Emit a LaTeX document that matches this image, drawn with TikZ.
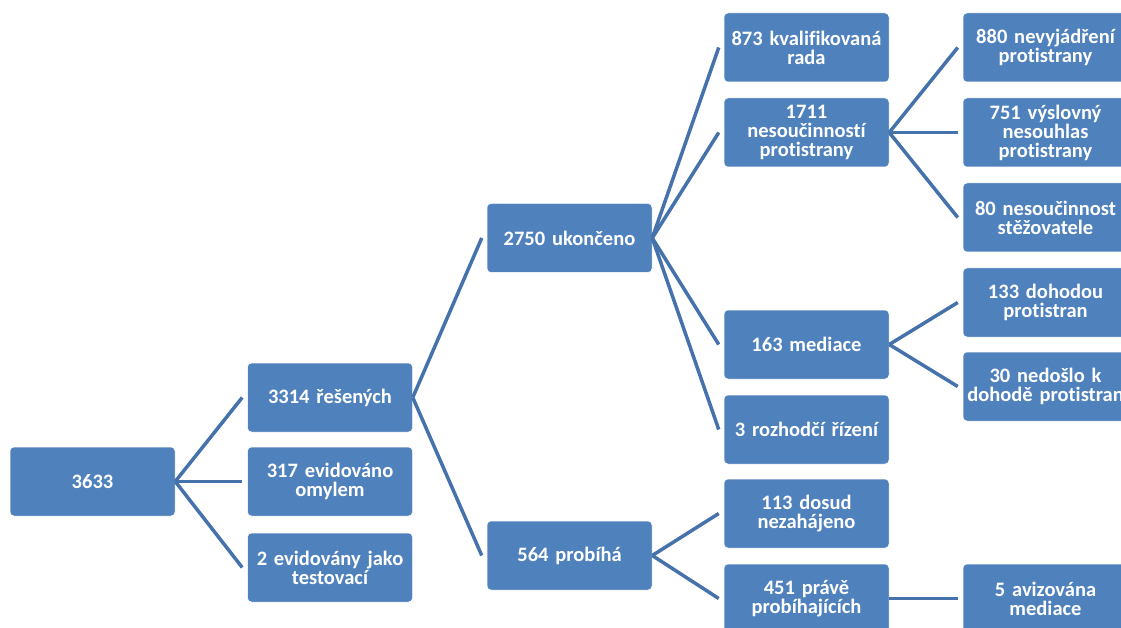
\documentclass[tikz,border=0pt]{standalone}
\usepackage{fontspec}
\setmainfont{Carlito}[Ligatures=NoCommon]
\definecolor{boxblue}{HTML}{4F81BD}
\definecolor{linkblue}{HTML}{4672AC}
\tikzset{
    box/.style={rectangle, rounded corners=4pt, fill=boxblue, draw=white, line width=0.5pt,
        text width=157pt, minimum height=69pt, inner sep=4pt, align=center, text=white,
        font=\bfseries\fontsize{20.5}{19}\selectfont},
    link/.style={draw=linkblue, line width=3.5pt}
}
\begin{document}
\begin{tikzpicture}[x=1pt, y=-1pt]
        
        \useasboundingbox (0,0) rectangle (1121,628);
        \clip (0,0) rectangle (1121,628);
        
        % first two levels
        \node[box] (root) at (92.5, 481.5) {3633};
        \node[box] (resene) at (330, 397.5) {3314 řešených};
        \node[box] (omylem) at (330, 481.5) {317 evidováno\\omylem};
        \node[box] (testovaci) at (330, 567.5) {2 evidovány jako\\testovací};
        \node[box] (ukonceno) at (569.5, 238) {2750 ukončeno};
        \node[box] (probiha) at (569.5, 555.5) {564 probíhá};
        
        % third level
        \node[box] (rada) at (806.5, 47.5) {873 kvalifikovaná\\rada};
        \node[box] (nesoucinnost) at (806.5, 132.5) {1711\\nesoučinností\\protistrany};
        \node[box] (mediace) at (806.5, 344.5) {163 mediace};
        \node[box] (rozhodci) at (806.5, 429.5) {3 rozhodčí řízení};
        \node[box] (nezahajeno) at (806.5, 513.5) {113 dosud\\nezahájeno};
        \node[box] (probihajici) at (806.5, 598.5) {451 právě\\probíhajících};
        
        % fourth level
        \node[box] (nevyjadreni) at (1045.5, 47.5) {880 nevyjádření\\protistrany};
        \node[box] (nesouhlas) at (1045.5, 132.5) {751 výslovný\\nesouhlas\\protistrany};
        \node[box] (stezovatel) at (1045.5, 217.5) {80 nesoučinnost\\stěžovatele};
        \node[box] (dohoda) at (1045.5, 302.5) {133 dohodou\\protistran};
        \node[box] (nedoslo) at (1045.5, 386.5) {30 nedošlo k\\dohodě protistran};
        \node[box] (avizovana) at (1045.5, 598.5) {5 avizována\\mediace};
        
        \foreach \a / \b in {root/resene, root/omylem, root/testovaci,
                resene/ukonceno, resene/probiha,
                ukonceno/rada, ukonceno/nesoucinnost, ukonceno/mediace, ukonceno/rozhodci,
                probiha/nezahajeno, probiha/probihajici,
                nesoucinnost/nevyjadreni, nesoucinnost/nesouhlas, nesoucinnost/stezovatel,
                mediace/dohoda, mediace/nedoslo, probihajici/avizovana}
            \path[link] (\a.east) -- ([xshift=-5pt]\b.west);
        
    \end{tikzpicture}
\end{document}
